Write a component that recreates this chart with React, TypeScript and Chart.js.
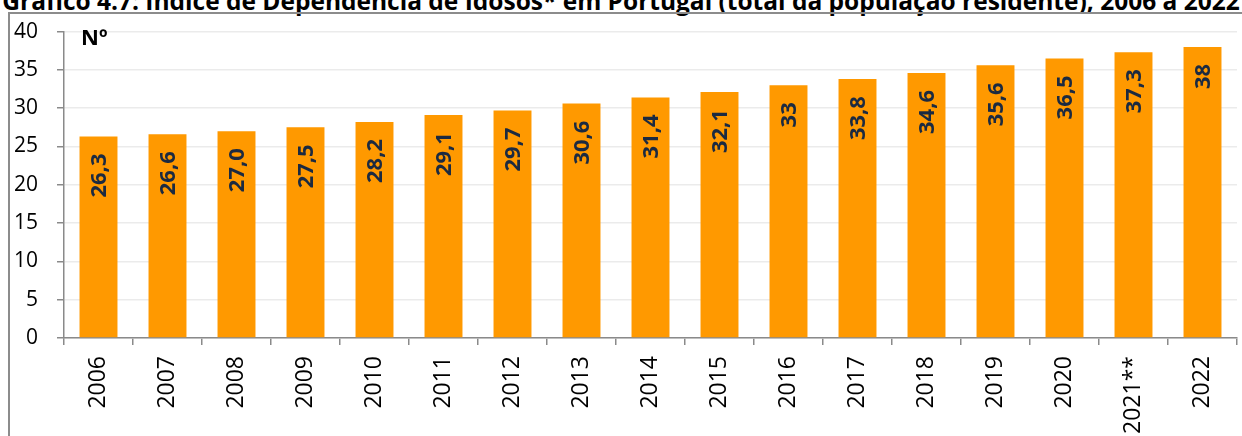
import React, { useEffect, useRef } from "react";
import { Chart, registerables } from "chart.js";

Chart.register(...registerables);

const years = ["2006","2007","2008","2009","2010","2011","2012","2013","2014","2015","2016","2017","2018","2019","2020","2021**","2022"];
const values = [26.3,26.6,27.0,27.5,28.2,29.1,29.7,30.6,31.4,32.1,33,33.8,34.6,35.6,36.5,37.3,38];
const valueLabels = ["26,3","26,6","27,0","27,5","28,2","29,1","29,7","30,6","31,4","32,1","33","33,8","34,6","35,6","36,5","37,3","38"];
const yTicks = [0,5,10,15,20,25,30,35,40];

const FONT = "'Open Sans', 'Noto Sans', sans-serif";

const labelPlugin = {
  id: "barLabels",
  afterDatasetsDraw(chart: any) {
    const ctx = chart.ctx;
    const meta = chart.getDatasetMeta(0);
    ctx.save();
    ctx.font = `bold 22px ${FONT}`;
    ctx.fillStyle = "#1b2a41";
    ctx.textAlign = "right";
    ctx.textBaseline = "middle";
    meta.data.forEach((bar: any, i: number) => {
      ctx.save();
      ctx.translate(bar.x, bar.y + 17);
      ctx.rotate(-Math.PI / 2);
      ctx.fillText(valueLabels[i], 0, 1);
      ctx.restore();
    });
    ctx.restore();
  },
};

export default function App() {
  const ref = useRef<HTMLCanvasElement>(null);
  useEffect(() => {
    const chart = new Chart(ref.current!, {
      type: "bar",
      data: {
        labels: years,
        datasets: [
          {
            data: values,
            backgroundColor: "#ff9900",
            borderWidth: 0,
            barPercentage: 0.55,
            categoryPercentage: 1,
          },
        ],
      },
      options: {
        animation: false,
        responsive: false,
        maintainAspectRatio: false,
        layout: { padding: { top: 30, right: 5, left: 0, bottom: 0 } },
        plugins: { legend: { display: false }, tooltip: { enabled: false }, title: { display: false } },
        scales: {
          x: {
            offset: true,
            grid: { offset: true, drawOnChartArea: false, drawTicks: true, tickLength: 7, color: "#8a8a8a", lineWidth: 1.5 },
            border: { display: true, color: "#8a8a8a", width: 1.5 },
            ticks: {
              minRotation: 90,
              maxRotation: 90,
              autoSkip: false,
              padding: 11,
              color: "#000",
              font: { family: FONT, size: 23 },
            },
            afterFit(scale: any) {
              scale.height = 98;
            },
          },
          y: {
            min: 0,
            max: 40,
            afterBuildTicks(scale: any) {
              scale.ticks = yTicks.map((v) => ({ value: v }));
            },
            grid: { color: "#ebebeb", lineWidth: 1.5, drawTicks: true, tickLength: 7, tickColor: "#8a8a8a" },
            border: { display: true, color: "#8a8a8a", width: 1.5 },
            ticks: {
              padding: 19,
              color: "#000",
              font: { family: FONT, size: 21 },
            },
            afterFit(scale: any) {
              scale.width = 64;
            },
          },
        },
      },
      plugins: [labelPlugin],
    });
    return () => chart.destroy();
  }, []);

  return (
    <div style={{ position: "fixed", left: 0, top: 0, width: 1242, height: 436, overflow: "hidden", background: "#fff" }}>
      <div
        style={{
          position: "absolute",
          left: -100,
          width: 1442,
          top: -10.5,
          textAlign: "center",
          font: `bold 24.5px/22px ${FONT}`,
          color: "#000",
          whiteSpace: "nowrap",
        }}
      >
        Gráfico 4.7: Índice de Dependência de Idosos* em Portugal (total da população residente), 2006 a 2022
      </div>
      <div
        style={{
          position: "absolute",
          left: 8,
          top: 12,
          width: 1240,
          height: 430,
          borderTop: "2px solid #8c8c8c",
          borderLeft: "2px solid #8c8c8c",
        }}
      />
      <canvas ref={ref} width={1242} height={436} style={{ position: "absolute", left: 0, top: 0, width: 1242, height: 436 }} />
      <div style={{ position: "absolute", left: 81, top: 21, font: `bold 22px ${FONT}`, color: "#000" }}>Nº</div>
    </div>
  );
}
